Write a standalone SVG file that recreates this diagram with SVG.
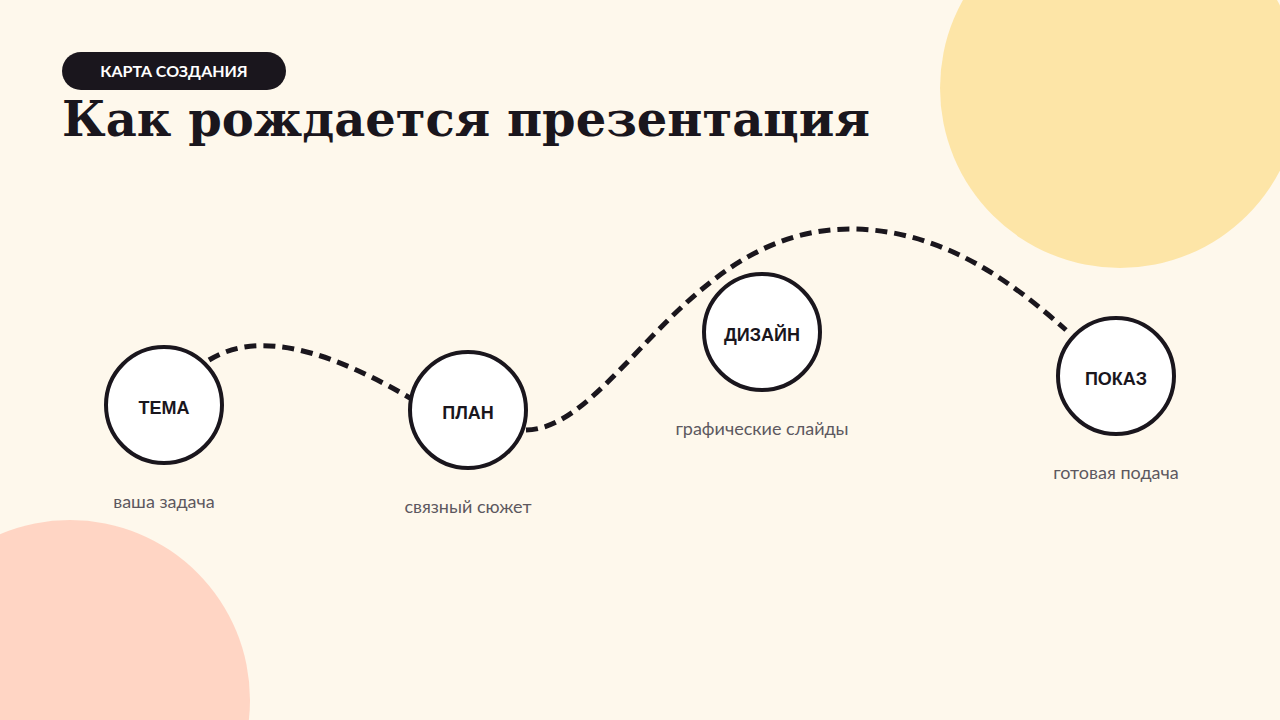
<svg xmlns="http://www.w3.org/2000/svg" width="1280" height="720" viewBox="0 0 1280 720">
  <style>
    .node circle { fill: #ffffff; stroke: #1a161d; stroke-width: 4; }
    .label { font-family: "Liberation Sans", Arial, sans-serif; font-weight: bold; font-size: 18px; fill: #1a161d; text-anchor: middle; }
    .sub { font-family: Lato, "Noto Sans", sans-serif; font-size: 18px; fill: #5d5860; text-anchor: middle; }
    .conn path { fill: none; stroke: #1a161d; stroke-width: 5; stroke-dasharray: 12 7; }
  </style>
  <rect x="0" y="0" width="1280" height="720" fill="#fef8ec"/>
  <circle cx="1120" cy="88" r="180" fill="#fde5a7"/>
  <circle cx="70" cy="700" r="180" fill="#ffd5c4"/>

  <g id="header">
    <rect x="62" y="52" width="224" height="38" rx="19" fill="#1a161d"/>
    <text x="174" y="77" font-family="Lato, 'Noto Sans', sans-serif" font-weight="bold" font-size="16" fill="#ffffff" text-anchor="middle">КАРТА СОЗДАНИЯ</text>
    <text x="62" y="136" font-family="'DejaVu Serif', 'Liberation Serif', serif" font-weight="bold" font-size="48" fill="#1a161d">Как рождается презентация</text>
  </g>

  <g id="connectors" class="conn">
    <path d="M209,360 C248,336 308,338 410,398"/>
    <path d="M526,430 C615,428 685,229 850,229 C940,229 1010,280 1066,330"/>
  </g>

  <g id="node-tema" class="node">
    <circle cx="164" cy="405" r="58"/>
    <text class="label" x="164" y="414">ТЕМА</text>
    <text class="sub" x="164" y="508">ваша задача</text>
  </g>
  <g id="node-plan" class="node">
    <circle cx="468" cy="410" r="58"/>
    <text class="label" x="468" y="419">ПЛАН</text>
    <text class="sub" x="468" y="513">связный сюжет</text>
  </g>
  <g id="node-design" class="node">
    <circle cx="762" cy="332" r="58"/>
    <text class="label" x="762" y="341">ДИЗАЙН</text>
    <text class="sub" x="762" y="435">графические слайды</text>
  </g>
  <g id="node-show" class="node">
    <circle cx="1116" cy="376" r="58"/>
    <text class="label" x="1116" y="385">ПОКАЗ</text>
    <text class="sub" x="1116" y="479">готовая подача</text>
  </g>
</svg>
